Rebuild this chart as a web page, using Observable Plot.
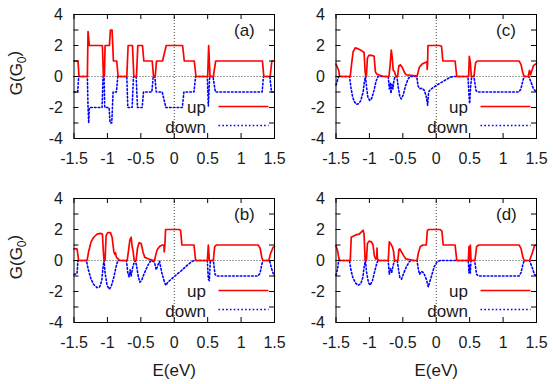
<!DOCTYPE html>
<html>
<head>
<meta charset="utf-8">
<script src="https://cdn.jsdelivr.net/npm/d3@7"></script>
<script src="https://cdn.jsdelivr.net/npm/@observablehq/plot@0.6"></script>
<style>
  html, body { margin: 0; padding: 0; background: #fff; }
  #root { position: relative; width: 553px; height: 384px; overflow: hidden; background: #fff; }
  #root svg { position: absolute; left: 0; max-width: none; }
</style>
</head>
<body>
<div id="root"></div>
<script>
// ---------- data (E in eV, G in units of G0) ----------
const xTicks = [-1.5, -1, -0.5, 0, 0.5, 1, 1.5];
const xTickLabels = ["-1.5", "-1", "-0.5", "0", "0.5", "1", "1.5"];
const yTicks = [-4, -3, -2, -1, 0, 1, 2, 3, 4];
const yTickLabels = ["-4", "-2", "0", "2", "4"];
const yLabelValues = [-4, -2, 0, 2, 4];
const panelLabels = ["(a)", "(b)", "(c)", "(d)"];
const seriesNames = ["up", "down"];
const xTitle = "E(eV)";
const yTitleMain = "G(G";
const yTitleSub = "0";

const upA = [[-1.5,1],[-1.44,1],[-1.425,0],[-1.3,0],[-1.29,2.9],[-1.27,2],[-1.075,2],[-1.06,0],[-1.045,0],[-1.035,2],[-0.97,2],[-0.955,3],[-0.93,3],[-0.91,1],[-0.86,1],[-0.84,0],[-0.71,0],[-0.69,2],[-0.625,2],[-0.605,0],[-0.565,0],[-0.545,2],[-0.475,2],[-0.455,1],[-0.33,1],[-0.31,0],[-0.285,0],[-0.265,1],[-0.175,1],[-0.12,2],[0.125,2],[0.15,1],[0.3,1],[0.325,0],[0.5,0],[0.515,2],[0.535,0],[0.585,0],[0.62,1],[1.32,1],[1.34,0],[1.435,0],[1.46,1],[1.5,1]];
const downA = [[-1.5,-1],[-1.445,-1],[-1.43,0],[-1.3,0],[-1.29,-2],[-1.28,-3],[-1.27,-2],[-1.08,-2],[-1.065,0],[-1.05,0],[-1.04,-2],[-0.975,-2],[-0.96,-3],[-0.935,-3],[-0.915,-1],[-0.865,-1],[-0.845,0],[-0.71,0],[-0.695,-2],[-0.63,-2],[-0.61,0],[-0.57,0],[-0.55,-2],[-0.48,-2],[-0.46,-1],[-0.335,-1],[-0.315,0],[-0.29,0],[-0.27,-1],[-0.18,-1],[-0.125,-2],[0.12,-2],[0.145,-1],[0.295,-1],[0.32,0],[0.495,0],[0.51,-1.9],[0.53,0],[0.58,0],[0.615,-1],[1.315,-1],[1.335,0],[1.43,0],[1.455,-1],[1.5,-1]];

const upB = [[-1.5,0.75],[-1.455,0.75],[-1.44,0.3],[-1.43,0],[-1.305,0],[-1.28,0.6],[-1.245,1.2],[-1.205,1.5],[-1.155,1.7],[-1.105,1.75],[-1.075,1.7],[-1.06,0.5],[-1.05,0],[-1.035,0],[-1.02,1.6],[-0.995,1.8],[-0.955,1.8],[-0.93,1.5],[-0.905,0.6],[-0.89,0.4],[-0.88,0.5],[-0.865,0.2],[-0.83,0.05],[-0.805,0],[-0.705,0],[-0.685,0.6],[-0.665,1.3],[-0.645,1.5],[-0.63,0.9],[-0.615,0.6],[-0.6,0],[-0.57,0],[-0.55,0.8],[-0.525,1.15],[-0.495,1.1],[-0.465,0.5],[-0.44,0.2],[-0.38,0.1],[-0.33,0.03],[-0.295,0],[-0.28,0.3],[-0.255,0.7],[-0.22,0.9],[-0.18,1.0],[-0.155,1.0],[-0.15,0.55],[-0.14,1.0],[-0.13,2.0],[0.07,2.0],[0.095,1.95],[0.115,1.0],[0.295,1.0],[0.32,0],[0.495,0],[0.51,1.0],[0.525,0],[0.585,0],[0.605,0.9],[0.63,1.0],[1.255,1.0],[1.285,0.8],[1.31,0.2],[1.325,0],[1.415,0],[1.445,0.5],[1.48,0.85],[1.5,0.9]];
const downB = [[-1.5,-0.9],[-1.455,-0.85],[-1.44,0],[-1.315,0],[-1.285,-0.6],[-1.245,-1.2],[-1.205,-1.55],[-1.155,-1.75],[-1.115,-1.7],[-1.085,-1.3],[-1.065,-0.4],[-1.05,0],[-1.035,-0.8],[-1.005,-1.6],[-0.975,-1.85],[-0.945,-1.7],[-0.905,-1.1],[-0.87,-0.4],[-0.845,0],[-0.715,0],[-0.695,-0.8],[-0.675,-1.05],[-0.66,-0.6],[-0.645,-1.0],[-0.625,-0.5],[-0.605,-0.2],[-0.585,0],[-0.565,-0.3],[-0.54,-1.0],[-0.515,-1.4],[-0.49,-1.3],[-0.455,-0.9],[-0.415,-0.5],[-0.375,-0.15],[-0.345,0],[-0.295,-0.1],[-0.27,-0.6],[-0.245,-0.3],[-0.22,-0.05],[-0.205,-0.4],[-0.18,-0.9],[-0.145,-1.4],[-0.125,-1.6],[-0.095,-1.4],[-0.005,-1.05],[0.095,-0.7],[0.195,-0.3],[0.27,-0.05],[0.305,0],[0.495,0],[0.51,-1.2],[0.525,-1.3],[0.54,0],[0.585,0],[0.61,-0.9],[0.635,-1.0],[1.255,-1.0],[1.285,-0.8],[1.31,-0.25],[1.325,0],[1.425,0],[1.455,-0.5],[1.49,-0.95],[1.5,-1]];

const upC = [[-1.5,0.8],[-1.475,0.55],[-1.46,0.4],[-1.445,0],[-1.287,0],[-1.267,0.8],[-1.243,1.6],[-1.213,1.85],[-1.178,1.8],[-1.129,1.7],[-1.08,1.55],[-1.064,0.3],[-1.054,0],[-1.045,0],[-1.03,1.2],[-1.005,1.38],[-0.955,1.35],[-0.93,1.3],[-0.91,0.3],[-0.89,0.15],[-0.856,0.1],[-0.822,0.05],[-0.782,0],[-0.708,0],[-0.693,0.6],[-0.673,1.7],[-0.658,1.2],[-0.644,0.4],[-0.624,0.3],[-0.604,0],[-0.579,0],[-0.559,0.7],[-0.535,0.75],[-0.51,0.6],[-0.475,0.25],[-0.446,0.1],[-0.312,0.05],[-0.287,0],[-0.277,0.2],[-0.252,0.6],[-0.213,0.8],[-0.163,0.9],[-0.139,0.95],[-0.136,0.45],[-0.129,0.9],[-0.124,2],[0.05,2],[0.079,1.95],[0.099,1],[0.282,1],[0.307,0],[0.485,0],[0.495,1.3],[0.51,0.9],[0.525,0],[0.564,0],[0.589,0.9],[0.614,1],[1.238,1],[1.267,0.8],[1.297,0.2],[1.317,0],[1.376,0],[1.396,0.4],[1.41,0.1],[1.455,0.7],[1.5,0.85]];
const downC = [[-1.5,-0.55],[-1.475,-0.2],[-1.46,0],[-1.297,0],[-1.277,-0.7],[-1.252,-1.3],[-1.228,-1.6],[-1.193,-1.8],[-1.158,-1.75],[-1.129,-1.55],[-1.094,-1.0],[-1.074,-0.3],[-1.059,0],[-1.045,-0.6],[-1.025,-1.3],[-0.995,-1.55],[-0.965,-1.4],[-0.931,-0.9],[-0.901,-0.3],[-0.871,0],[-0.718,0],[-0.703,-0.8],[-0.688,-0.4],[-0.678,-1.1],[-0.663,-0.5],[-0.649,-0.8],[-0.634,-0.3],[-0.619,0],[-0.589,0],[-0.569,-0.7],[-0.545,-1.3],[-0.525,-1.45],[-0.495,-1.2],[-0.46,-0.6],[-0.426,-0.2],[-0.396,0],[-0.292,0],[-0.272,-0.6],[-0.248,-0.8],[-0.213,-0.75],[-0.178,-0.9],[-0.149,-1.3],[-0.129,-1.85],[-0.114,-1.0],[-0.089,-0.85],[0.01,-0.55],[0.109,-0.3],[0.208,-0.05],[0.257,0],[0.475,0],[0.49,-1.2],[0.5,-1.75],[0.515,-0.6],[0.53,0],[0.564,0],[0.594,-0.9],[0.614,-1],[1.238,-1],[1.267,-0.8],[1.297,-0.25],[1.317,0],[1.386,0],[1.421,-0.4],[1.455,-0.8],[1.5,-1]];

const upD = [[-1.5,0.95],[-1.475,0.6],[-1.45,0],[-1.287,0],[-1.272,1.5],[-1.252,1.55],[-1.203,1.65],[-1.153,1.7],[-1.119,1.85],[-1.094,1.95],[-1.08,1.7],[-1.064,0],[-1.045,0],[-1.03,1.1],[-1.005,1.25],[-0.97,1.2],[-0.946,1.0],[-0.926,0.3],[-0.906,0.1],[-0.891,0.1],[-0.886,0.8],[-0.881,0.1],[-0.856,0],[-0.718,0],[-0.703,1.2],[-0.683,1.1],[-0.658,0.9],[-0.639,0.6],[-0.624,0],[-0.574,0],[-0.559,0.7],[-0.545,0.75],[-0.52,0.55],[-0.485,0.3],[-0.455,0.1],[-0.386,0.05],[-0.337,0],[-0.287,0],[-0.267,0.5],[-0.238,0.9],[-0.198,1.0],[-0.149,1.0],[-0.134,1.9],[-0.119,2.0],[0.059,2.0],[0.084,1.9],[0.104,1.0],[0.282,1.0],[0.307,0],[0.48,0],[0.49,0.9],[0.5,0],[0.51,1.0],[0.52,0],[0.579,0],[0.604,0.9],[0.634,1.0],[1.238,1.0],[1.267,0.8],[1.297,0.2],[1.317,0],[1.396,0],[1.431,0.4],[1.47,0.95],[1.5,1.0]];
const downD = [[-1.5,-0.95],[-1.475,-0.5],[-1.46,0],[-1.297,0],[-1.277,-0.6],[-1.248,-1.1],[-1.208,-1.45],[-1.168,-1.6],[-1.129,-1.5],[-1.099,-1.1],[-1.079,-0.4],[-1.059,0],[-1.045,-0.7],[-1.015,-1.4],[-0.99,-1.6],[-0.955,-1.3],[-0.921,-0.7],[-0.891,-0.2],[-0.871,0],[-0.718,0],[-0.703,-0.9],[-0.683,-0.5],[-0.668,-0.8],[-0.644,-0.3],[-0.624,0],[-0.584,0],[-0.564,-0.6],[-0.545,-1.1],[-0.52,-1.2],[-0.485,-0.8],[-0.446,-0.4],[-0.406,-0.1],[-0.376,0],[-0.287,0],[-0.267,-0.6],[-0.248,-0.9],[-0.223,-0.7],[-0.188,-0.8],[-0.149,-1.2],[-0.119,-1.7],[-0.099,-1.4],[-0.064,-0.9],[-0.03,-0.4],[0.01,-0.1],[0.059,0],[0.48,0],[0.49,-0.8],[0.5,-0.3],[0.51,-0.8],[0.52,0],[0.574,0],[0.604,-0.9],[0.634,-1.0],[1.238,-1.0],[1.267,-0.8],[1.297,-0.25],[1.317,0],[1.396,0],[1.431,-0.4],[1.47,-0.9],[1.5,-1.0]];

// ---------- layout / style ----------
const FONT = "'Liberation Sans', Arial, Helvetica, sans-serif";
const RED = "#ff0000", BLUE = "#0000ff", INK = "#1a1a1a";
const FW = 200.5, FH = 124, SVG_W = 553, SVG_H = 192;

const panels = [
  {up: upA, down: downA, label: panelLabels[0], top: 0,   frameLeft: 73.5,  frameTop: 14, xTitle: false, yTitle: true},
  {up: upC, down: downC, label: panelLabels[2], top: 0,   frameLeft: 335.5, frameTop: 14, xTitle: false, yTitle: false},
  {up: upB, down: downB, label: panelLabels[1], top: 192, frameLeft: 73.5,  frameTop: 6,  xTitle: true,  yTitle: true},
  {up: upD, down: downD, label: panelLabels[3], top: 192, frameLeft: 335.5, frameTop: 6,  xTitle: true,  yTitle: false}
];

const root = document.getElementById("root");

for (const p of panels) {
  const mL = p.frameLeft, mT = p.frameTop;
  const mR = SVG_W - mL - FW, mB = SVG_H - mT - FH;
  const marks = [
    Plot.ruleX([0], {x: d => d, stroke: "#444", strokeWidth: 1, strokeDasharray: "1,2"}),
    Plot.ruleY([0], {y: d => d, stroke: "#444", strokeWidth: 1, strokeDasharray: "1,2"}),
    Plot.line(p.down, {x: d => d[0], y: d => d[1], stroke: BLUE, strokeWidth: 1.6, strokeDasharray: "1.6,2.2", curve: "linear"}),
    Plot.line(p.up, {x: d => d[0], y: d => d[1], stroke: RED, strokeWidth: 1.7, curve: "linear"}),
    // inward ticks on all four sides
    Plot.tickX(xTicks, {x: d => d, insetTop: FH - 5, stroke: "#000"}),
    Plot.tickX(xTicks, {x: d => d, insetBottom: FH - 5, stroke: "#000"}),
    Plot.tickY(yTicks, {y: d => d, insetRight: FW - 5, stroke: "#000"}),
    Plot.tickY(yTicks, {y: d => d, insetLeft: FW - 5, stroke: "#000"}),
    Plot.frame({stroke: "#000", strokeWidth: 1}),
    Plot.axisX(xTicks, {anchor: "bottom", tickSize: 0, tickPadding: 14, label: null,
      tickFormat: d => xTickLabels[xTicks.indexOf(d)], fontSize: 16, fill: INK}),
    Plot.axisY(yLabelValues, {anchor: "left", tickSize: 0, tickPadding: 11, label: null,
      tickFormat: d => yTickLabels[yLabelValues.indexOf(d)], fontSize: 16, fill: INK}),
    Plot.text([p.label], {text: d => d, frameAnchor: "top-left", dx: 160, dy: 9.5,
      textAnchor: "start", lineAnchor: "top", fontSize: 17, fill: INK}),
    Plot.text([seriesNames[0]], {text: d => d, frameAnchor: "bottom-left", dx: 132, dy: -25.5,
      textAnchor: "end", lineAnchor: "bottom", fontSize: 17, fill: INK}),
    Plot.text([seriesNames[1]], {text: d => d, frameAnchor: "bottom-left", dx: 132, dy: -6,
      textAnchor: "end", lineAnchor: "bottom", fontSize: 17, fill: INK})
  ];
  if (p.xTitle) {
    marks.push(Plot.text([xTitle], {text: d => d, frameAnchor: "bottom", dy: 48,
      lineAnchor: "middle", fontSize: 17, fill: INK}));
  }
  const svg = Plot.plot({
    width: SVG_W, height: SVG_H,
    marginLeft: mL, marginRight: mR, marginTop: mT, marginBottom: mB,
    style: {fontFamily: FONT, fontSize: "16px", background: "transparent", overflow: "visible", color: INK},
    x: {domain: [-1.5, 1.5]},
    y: {domain: [-4, 4]},
    marks
  });
  svg.style.top = p.top + "px";
  root.appendChild(svg);

  // legend line samples (decoration)
  const s = d3.select(svg);
  const fb = mT + FH;
  s.append("line").attr("x1", mL + 145).attr("x2", mL + 195)
    .attr("y1", fb - 31.5).attr("y2", fb - 31.5)
    .attr("stroke", RED).attr("stroke-width", 1.7);
  s.append("line").attr("x1", mL + 145).attr("x2", mL + 195)
    .attr("y1", fb - 12.5).attr("y2", fb - 12.5)
    .attr("stroke", BLUE).attr("stroke-width", 1.6).attr("stroke-dasharray", "1.6,2.2");

  if (p.yTitle) {
    const t = s.append("text")
      .attr("transform", `translate(22,${mT + FH / 2 - 3}) rotate(-90)`)
      .attr("text-anchor", "middle")
      .attr("font-family", FONT).attr("font-size", 17).attr("fill", INK);
    t.append("tspan").text(yTitleMain);
    t.append("tspan").attr("font-size", 12).attr("dy", "0.35em").text(yTitleSub);
    t.append("tspan").attr("dy", "-0.35em").text(")");
  }
}
</script>
</body>
</html>
